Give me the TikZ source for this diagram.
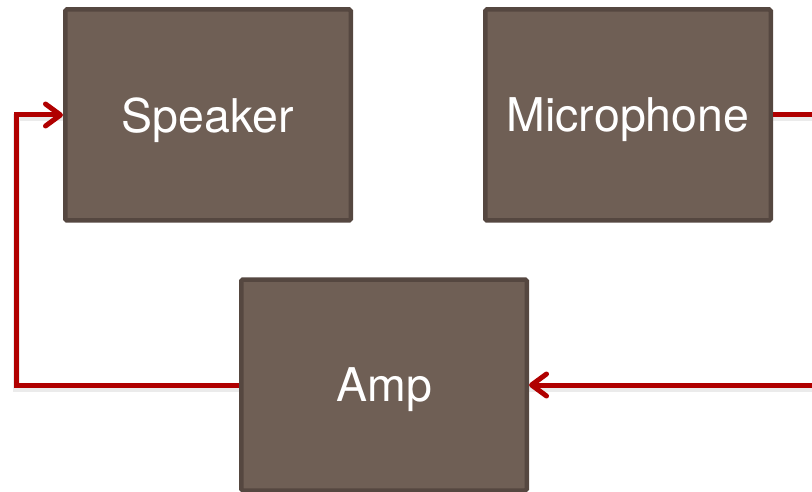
\documentclass[tikz,border=0pt]{standalone}
\usepackage{fontspec}
\setmainfont{TeX Gyre Heros}
\usetikzlibrary{arrows.meta}
\definecolor{boxfill}{HTML}{6F5F55}
\definecolor{boxline}{HTML}{554740}
\definecolor{wirec}{HTML}{B00000}
\begin{document}
\begin{tikzpicture}[x=1pt,y=-1pt,
  blk/.style={draw=boxline, fill=boxfill, line width=4.5pt, rounded corners=1.5pt,
    minimum width=285.5pt, minimum height=211pt, inner sep=0pt, text depth=0pt,
    text=white, font=\fontsize{46.5}{50}\selectfont},
  wire/.style={draw=wirec, line width=5pt, line join=miter},
  wireshadow/.style={draw=black, opacity=0.08, line width=7pt, line join=miter},
  tip/.style={-{Straight Barb[length=15pt,width=22pt,line cap=round,line join=round]}}
]
\useasboundingbox (0,0) rectangle (812,492);
\clip (0,0) rectangle (812,492);
\coordinate (r1) at (840,115);
\coordinate (l1) at (16.5,115);
\node[blk] (spk) at (208,115) {Speaker};
\node[blk] (mic) at (628,115) {Microphone};
\node[blk] (amp) at (384,385) {Amp};
% soft shadows of the wires
\draw[wireshadow, transform canvas={yshift=-3pt}] (mic.east) -- (mic.east -| r1) -- (amp.east -| r1) -- (amp.east);
\draw[wireshadow, transform canvas={yshift=-3pt}] (amp.west) -- (amp.west -| l1) -- (spk.west -| l1) -- (spk.west);
% wires
\draw[wire, tip] (mic.east) -- (mic.east -| r1) -- (amp.east -| r1) -- (amp.east);
\draw[wire, tip] (amp.west) -- (amp.west -| l1) -- (spk.west -| l1) -- (spk.west);
\end{tikzpicture}
\end{document}
